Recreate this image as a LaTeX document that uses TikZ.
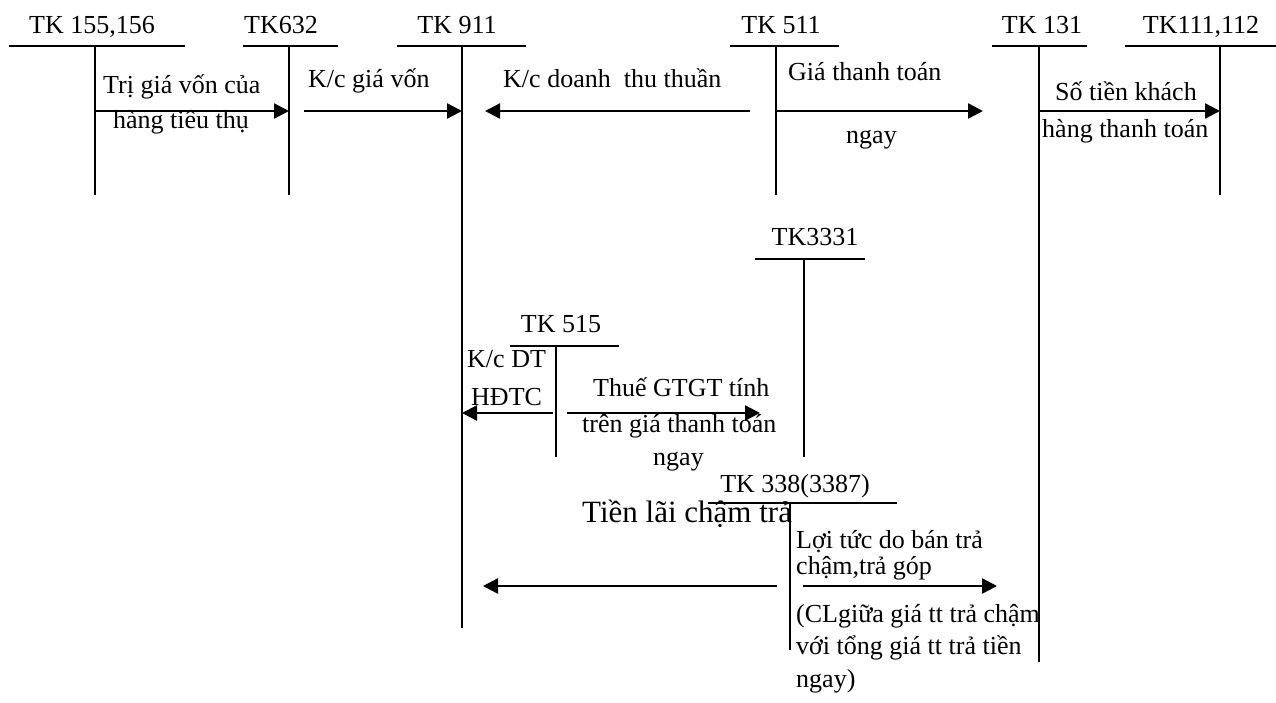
\documentclass[tikz,border=0pt]{standalone}
\usepackage{fontspec}
\setmainfont{Liberation Serif}
\usetikzlibrary{arrows.meta}
\begin{document}
\begin{tikzpicture}[x=1pt,y=-1pt,
  ln/.style={line width=2pt},
  arr/.style={line width=2.4pt,-{Triangle[length=15pt,width=15pt]}},
  hd/.style={anchor=base,inner sep=0pt,font=\fontsize{26}{31}\selectfont},
  tx/.style={anchor=base west,inner sep=0pt,font=\fontsize{26}{31}\selectfont},
  big/.style={anchor=base west,inner sep=0pt,font=\fontsize{31}{37}\selectfont}]
\useasboundingbox (0,0) rectangle (1276,702);

% T-account headings
\node[hd] (h155) at (92,33) {TK 155,156};
\node[hd] (h632) at (281,33) {TK632};
\node[hd] (h911) at (457,33) {TK 911};
\node[hd] (h511) at (781,33) {TK 511};
\node[hd] (h131) at (1042,33) {TK 131};
\node[hd] (h111) at (1201,33) {TK111,112};
\node[hd] (h3331) at (815,245) {TK3331};
\node[hd] (h515) at (561,332) {TK 515};
\node[hd] (h338) at (795,492) {TK 338(3387)};

% T-account lines
\coordinate (a155l) at (9,46);   \coordinate (a155r) at (185,46);
\coordinate (a155t) at (95,46);  \coordinate (a155b) at (95,195);
\coordinate (a632l) at (243,46); \coordinate (a632r) at (338,46);
\coordinate (a632t) at (289,46); \coordinate (a632b) at (289,195);
\coordinate (a911l) at (397,46); \coordinate (a911r) at (526,46);
\coordinate (a911t) at (462,46); \coordinate (a911b) at (462,628);
\coordinate (a511l) at (730,46); \coordinate (a511r) at (839,46);
\coordinate (a511t) at (776,46); \coordinate (a511b) at (776,195);
\coordinate (a131l) at (992,46); \coordinate (a131r) at (1087,46);
\coordinate (a131t) at (1039,46); \coordinate (a131b) at (1039,662);
\coordinate (a111l) at (1125,46); \coordinate (a111r) at (1276,46);
\coordinate (a111t) at (1220,46); \coordinate (a111b) at (1220,195);
\coordinate (a3331l) at (755,259); \coordinate (a3331r) at (865,259);
\coordinate (a3331t) at (804,259); \coordinate (a3331b) at (804,457);
\coordinate (a515l) at (510,346); \coordinate (a515r) at (619,346);
\coordinate (a515t) at (556,346); \coordinate (a515b) at (556,457);
\coordinate (a338l) at (708,503); \coordinate (a338r) at (897,503);
\coordinate (a338t) at (790,503); \coordinate (a338b) at (790,650);

\foreach \a in {155,632,911,511,131,111,3331,515,338}{
  \draw[ln] (a\a l) -- (a\a r);
  \draw[ln] (a\a t) -- (a\a b);
}

% arrow end points
\coordinate (p1s) at (95,111);  \coordinate (p1e) at (289,111);
\coordinate (p2s) at (304,111); \coordinate (p2e) at (462,111);
\coordinate (p3s) at (750,111); \coordinate (p3e) at (485,111);
\coordinate (p4s) at (776,111); \coordinate (p4e) at (983,111);
\coordinate (p5s) at (1039,111); \coordinate (p5e) at (1220,111);
\coordinate (p6s) at (553,413); \coordinate (p6e) at (462,413);
\coordinate (p7s) at (567,413); \coordinate (p7e) at (760,413);
\coordinate (p8s) at (777,586); \coordinate (p8e) at (483,586);
\coordinate (p9s) at (803,586); \coordinate (p9e) at (997,586);
\foreach \i in {1,...,9}{ \draw[arr] (p\i s) -- (p\i e); }

% labels
\node[tx] (t1a) at (103,93) {Trị giá vốn của};
\node[tx] (t1b) at (113,128) {hàng tiêu thụ};
\node[tx] (t2) at (308,87) {K/c giá vốn};
\node[tx] (t3) at (503,87) {K/c doanh\ \ thu thuần};
\node[tx] (t4a) at (788,80) {Giá thanh toán};
\node[tx] (t4b) at (846,143) {ngay};
\node[tx] (t5a) at (1055,100) {Số tiền khách};
\node[tx] (t5b) at (1042,137) {hàng thanh toán};
\node[tx] (t6a) at (467,367) {K/c DT};
\node[tx] (t6b) at (471,405) {HĐTC};
\node[tx] (t7a) at (593,396) {Thuế GTGT tính};
\node[tx] (t7b) at (582,432) {trên giá thanh toán};
\node[tx] (t7c) at (653,465) {ngay};
\node[big] (t8) at (582,522) {Tiền lãi chậm trả};
\node[tx] (t9a) at (796,548) {Lợi tức do bán trả};
\node[tx] (t9b) at (796,574) {chậm,trả góp};
\node[tx] (t9c) at (796,622) {(CLgiữa giá tt trả chậm};
\node[tx] (t9d) at (796,654) {với tổng giá tt trả tiền};
\node[tx] (t9e) at (796,687) {ngay)};
\end{tikzpicture}
\end{document}
